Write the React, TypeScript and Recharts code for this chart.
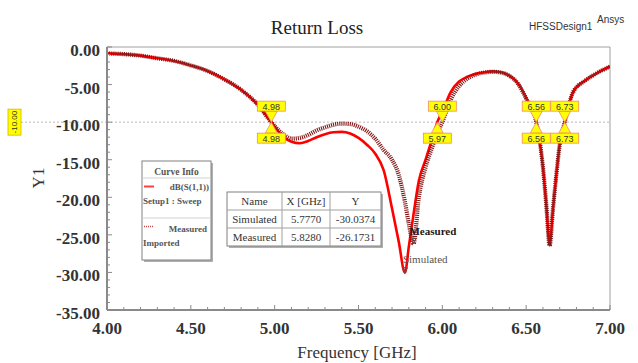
import React from "react";
import {
  LineChart,
  Line,
  XAxis,
  YAxis,
  ReferenceLine,
  ReferenceDot,
  ReferenceArea,
} from "recharts";

// ---------------- data ----------------
const freqGHz = [
  4.0, 4.1, 4.2, 4.3, 4.4, 4.5, 4.6, 4.7, 4.8, 4.9, 4.98, 5.05, 5.1, 5.15, 5.2,
  5.25, 5.3, 5.35, 5.4, 5.45, 5.5, 5.55, 5.6, 5.65, 5.7, 5.74, 5.777, 5.8,
  5.828, 5.86, 5.9, 5.94, 5.97, 6.0, 6.05, 6.1, 6.15, 6.2, 6.25, 6.3, 6.35,
  6.4, 6.45, 6.5, 6.56, 6.6, 6.62, 6.64, 6.66, 6.68, 6.7, 6.73, 6.78, 6.85,
  6.92, 7.0,
];
const simulatedDb = [
  -0.85, -0.95, -1.15, -1.5, -1.85, -2.45, -3.2, -4.3, -5.7, -7.7, -10.0,
  -11.9, -12.6, -12.8, -12.5, -12.0, -11.6, -11.35, -11.3, -11.5, -12.1,
  -13.0, -14.2, -16.4, -21.5, -25.9, -30.04, -26.6, -22.3, -17.8, -15.0,
  -12.2, -10.0, -8.6, -6.0, -4.6, -3.95, -3.55, -3.35, -3.25, -3.35, -3.8,
  -4.8, -6.8, -10.0, -16.0, -21.0, -26.4, -21.5, -17.0, -13.0, -10.0, -6.0,
  -4.5, -3.5, -2.6,
];
const measuredDb = [
  -0.85, -0.95, -1.15, -1.5, -1.85, -2.45, -3.2, -4.3, -5.7, -7.7, -10.0,
  -11.6, -12.2, -12.1, -11.7, -11.1, -10.7, -10.35, -10.2, -10.25, -10.6,
  -11.2, -12.2, -13.7, -15.0, -17.0, -20.6, -23.5, -26.17, -20.0, -16.0,
  -13.3, -11.5, -10.0, -7.0, -5.2, -4.2, -3.65, -3.4, -3.3, -3.4, -3.85, -4.85,
  -6.85, -10.0, -16.0, -21.0, -26.4, -21.5, -17.0, -13.0, -10.0, -6.0, -4.5,
  -3.5, -2.6,
];

const xMajorTicks = [4.0, 4.5, 5.0, 5.5, 6.0, 6.5, 7.0];
const yMajorTicks = [0, -5, -10, -15, -20, -25, -30, -35];
const xMinorStep = 0.1;
const yMinorStep = 1;

const markerLevel = -10;
const markerTopFreq = [4.98, 6.0, 6.56, 6.73];
const markerBottomFreq = [4.98, 5.97, 6.56, 6.73];

const minNames = ["Simulated", "Measured"];
const minFreq = [5.777, 5.828];
const minDb = [-30.0374, -26.1731];

const legendSeries = ["dB(S(1,1))", "Measured"];
const legendSources = ["Setup1 : Sweep", "Imported"];

// ---------------- derived ----------------
const chartData = freqGHz.map((f, i) => ({
  f,
  sim: simulatedDb[i],
  meas: measuredDb[i],
}));

const xTicks: number[] = [];
for (let i = 0; i <= Math.round((7 - 4) / xMinorStep); i++) {
  xTicks.push(Math.round((4 + i * xMinorStep) * 10) / 10);
}
const yTicks: number[] = [];
for (let i = 0; i <= 35 / yMinorStep; i++) {
  yTicks.push(-i * yMinorStep);
}

const SERIF = "'Liberation Serif', 'Times New Roman', serif";
const SANS = "'Liberation Sans', Arial, sans-serif";
const AXIS_GREY = "#8a8a8a";

const isMajor = (v: number, list: number[]) =>
  list.some((m) => Math.abs(m - v) < 1e-6);

const XTick = (props: any) => {
  const { x, y, payload } = props;
  const v = payload.value as number;
  const major = isMajor(v, xMajorTicks);
  return (
    <g>
      <line x1={x} x2={x} y1={y} y2={y - (major ? 5 : 3)} stroke={AXIS_GREY} strokeWidth={1} />
      {major && (
        <text
          x={x}
          y={y + 24}
          textAnchor="middle"
          fontFamily={SERIF}
          fontWeight="bold"
          fontSize={17}
          fill="#333"
        >
          {v.toFixed(2)}
        </text>
      )}
    </g>
  );
};

const YTick = (props: any) => {
  const { x, y, payload } = props;
  const v = payload.value as number;
  const major = isMajor(v, yMajorTicks);
  return (
    <g>
      <line x1={x} x2={x + (major ? 5 : 3)} y1={y} y2={y} stroke={AXIS_GREY} strokeWidth={1} />
      {major && (
        <text
          x={x - 7}
          y={y + 9}
          textAnchor="end"
          fontFamily={SERIF}
          fontWeight="bold"
          fontSize={17}
          fill="#333"
        >
          {v.toFixed(2)}
        </text>
      )}
    </g>
  );
};

const MarkerShape = (above: boolean, label: string) => (props: any) => {
  const { cx, cy } = props;
  if (cx == null || cy == null) return <g />;
  const boxW = 28;
  const boxH = 10;
  const gap = 11;
  const boxY = above ? cy - gap - boxH : cy + gap;
  const triBase = above ? cy - gap : cy + gap;
  return (
    <g>
      <polygon
        points={`${cx - 6},${triBase} ${cx + 6},${triBase} ${cx},${cy}`}
        fill="#ffff00"
        stroke="#f08a6a"
        strokeWidth={0.8}
      />
      <rect
        x={cx - boxW / 2}
        y={boxY}
        width={boxW}
        height={boxH}
        fill="#ffff00"
        stroke="#f08a6a"
        strokeWidth={0.8}
      />
      <text
        x={cx}
        y={boxY + 8.5}
        textAnchor="middle"
        fontFamily={SANS}
        fontSize={9}
        fill="#333"
      >
        {label}
      </text>
    </g>
  );
};

const MinLabelShape = (name: string, bold: boolean) => (props: any) => {
  const { cx, cy } = props;
  if (cx == null || cy == null) return <g />;
  return (
    <g>
      <path
        d={`M${cx - 2.5},${cy - 5} L${cx + 2.5},${cy - 5} L${cx},${cy} Z`}
        fill="none"
        stroke="#555"
        strokeWidth={1}
      />
      <text
        x={bold ? cx - 4 : cx - 2}
        y={bold ? cy - 9 : cy - 10}
        fontFamily={SERIF}
        fontWeight={bold ? "bold" : "normal"}
        fontSize={11}
        fill={bold ? "#1a1a1a" : "#555"}
      >
        {name}
      </text>
    </g>
  );
};

const RefLevelLabel = (props: any) => {
  const vb = props.viewBox || {};
  const vy = vb.y ?? 0;
  const vx = vb.x ?? 0;
  return (
    <g>
      <line x1={21} x2={vx} y1={vy} y2={vy} stroke="#b8b8b8" strokeDasharray="2 2" />
      <rect x={8} y={vy - 13} width={13} height={26} fill="#ffff00" stroke="#d6b400" strokeWidth={0.8} />
      <text
        x={14.5}
        y={vy}
        transform={`rotate(-90 14.5 ${vy})`}
        textAnchor="middle"
        dominantBaseline="central"
        fontFamily={SANS}
        fontSize={8}
        fill="#333"
      >
        {markerLevel.toFixed(2)}
      </text>
    </g>
  );
};

export default function App() {
  return (
    <div
      style={{
        position: "absolute",
        left: 0,
        top: 0,
        width: 638,
        height: 363,
        background: "#fff",
        overflow: "hidden",
      }}
    >
      <LineChart
        width={638}
        height={363}
        data={chartData}
        margin={{ top: 47, right: 28, left: 0, bottom: 0 }}
      >
        <ReferenceArea
          x1={4}
          x2={7}
          y1={-35}
          y2={0}
          fill="none"
          stroke="#a0a0a0"
          strokeWidth={1}
          fillOpacity={0}
        />
        <XAxis
          dataKey="f"
          type="number"
          domain={[4, 7]}
          ticks={xTicks}
          interval={0}
          tickSize={0}
          tickMargin={0}
          tick={<XTick />}
          axisLine={{ stroke: AXIS_GREY, strokeWidth: 2 }}
          height={53}
          allowDataOverflow
        />
        <YAxis
          type="number"
          domain={[-35, 0]}
          ticks={yTicks}
          interval={0}
          tickSize={0}
          tickMargin={0}
          tick={<YTick />}
          axisLine={{ stroke: AXIS_GREY, strokeWidth: 2 }}
          width={107}
          allowDataOverflow
        />
        <ReferenceLine
          y={markerLevel}
          stroke="#b8b8b8"
          strokeDasharray="2 2"
          label={<RefLevelLabel />}
        />
        <Line
          dataKey="sim"
          type="monotone"
          stroke="#ff0000"
          strokeWidth={2.6}
          dot={false}
          isAnimationActive={false}
        />
        <Line
          dataKey="meas"
          type="monotone"
          stroke="#861616"
          strokeWidth={4.2}
          strokeDasharray="1.1 1"
          dot={false}
          isAnimationActive={false}
        />
        {markerTopFreq.map((f, i) => (
          <ReferenceDot
            key={`top${i}`}
            x={f}
            y={markerLevel}
            r={1}
            ifOverflow="visible"
            shape={MarkerShape(true, f.toFixed(2))}
          />
        ))}
        {markerBottomFreq.map((f, i) => (
          <ReferenceDot
            key={`bot${i}`}
            x={f}
            y={markerLevel}
            r={1}
            ifOverflow="visible"
            shape={MarkerShape(false, f.toFixed(2))}
          />
        ))}
        {minFreq.map((f, i) => (
          <ReferenceDot
            key={`min${i}`}
            x={f}
            y={minDb[i]}
            r={1}
            ifOverflow="visible"
            shape={MinLabelShape(minNames[i], i === 1)}
          />
        ))}
      </LineChart>

      <svg
        width={638}
        height={363}
        style={{ position: "absolute", left: 0, top: 0, pointerEvents: "none" }}
      >
        {/* titles */}
        <text x={317} y={34} textAnchor="middle" fontFamily={SERIF} fontSize={19} fill="#222">
          Return Loss
        </text>
        <text x={529} y={30} fontFamily={SANS} fontSize={10} fill="#333">
          HFSSDesign1
        </text>
        <text x={597} y={23} fontFamily={SANS} fontSize={10} fill="#333">
          Ansys
        </text>
        <text
          x={44}
          y={178}
          transform="rotate(-90 44 178)"
          textAnchor="middle"
          fontFamily={SERIF}
          fontSize={17}
          fill="#333"
        >
          Y1
        </text>
        <text x={357} y={358} textAnchor="middle" fontFamily={SERIF} fontSize={17} fill="#333">
          Frequency [GHz]
        </text>

        {/* legend box */}
        <rect x={144} y={163} width={69} height={99} fill="#b0b0b0" />
        <rect x={142} y={161} width={69} height={99} fill="#fff" stroke="#808080" strokeWidth={1} />
        <text x={176.5} y={175} textAnchor="middle" fontFamily={SERIF} fontWeight="bold" fontSize={9.5} fill="#555">
          Curve Info
        </text>
        <line x1={142} x2={211} y1={178} y2={178} stroke="#d0d0d0" />
        <line x1={144} x2={154} y1={186.5} y2={186.5} stroke="#ff4040" strokeWidth={2} />
        <text x={209} y={190} textAnchor="end" fontFamily={SERIF} fontWeight="bold" fontSize={9} fill="#555">
          {legendSeries[0]}
        </text>
        <text x={143} y={204} fontFamily={SERIF} fontWeight="bold" fontSize={9} fill="#555">
          {legendSources[0]}
        </text>
        <line x1={142} x2={211} y1={218} y2={218} stroke="#d0d0d0" />
        <line x1={144} x2={154} y1={226.5} y2={226.5} stroke="#c05050" strokeWidth={1.5} strokeDasharray="1 1" />
        <text x={207} y={232} textAnchor="end" fontFamily={SERIF} fontWeight="bold" fontSize={9} fill="#555">
          {legendSeries[1]}
        </text>
        <text x={143} y={246} fontFamily={SERIF} fontWeight="bold" fontSize={9} fill="#555">
          {legendSources[1]}
        </text>

        {/* min table */}
        <rect x={229} y={194} width={154} height={54} fill="#b0b0b0" />
        <rect x={227} y={192} width={154} height={54} fill="#fff" stroke="#808080" strokeWidth={1} />
        <line x1={227} x2={381} y1={210} y2={210} stroke="#a0a0a0" />
        <line x1={227} x2={381} y1={228} y2={228} stroke="#a0a0a0" />
        <line x1={282} x2={282} y1={192} y2={246} stroke="#a0a0a0" />
        <line x1={330} x2={330} y1={192} y2={246} stroke="#a0a0a0" />
        <text x={254.5} y={205} textAnchor="middle" fontFamily={SERIF} fontSize={11} fill="#333">
          Name
        </text>
        <text x={306} y={205} textAnchor="middle" fontFamily={SERIF} fontSize={11} fill="#333">
          X [GHz]
        </text>
        <text x={355.5} y={205} textAnchor="middle" fontFamily={SERIF} fontSize={11} fill="#333">
          Y
        </text>
        {minNames.map((n, i) => (
          <g key={n}>
            <text x={254.5} y={223 + i * 18} textAnchor="middle" fontFamily={SERIF} fontSize={11} fill="#333">
              {n}
            </text>
            <text x={306} y={223 + i * 18} textAnchor="middle" fontFamily={SERIF} fontSize={11} fill="#333">
              {minFreq[i].toFixed(4)}
            </text>
            <text x={355.5} y={223 + i * 18} textAnchor="middle" fontFamily={SERIF} fontSize={11} fill="#333">
              {minDb[i].toFixed(4)}
            </text>
          </g>
        ))}
      </svg>
    </div>
  );
}
